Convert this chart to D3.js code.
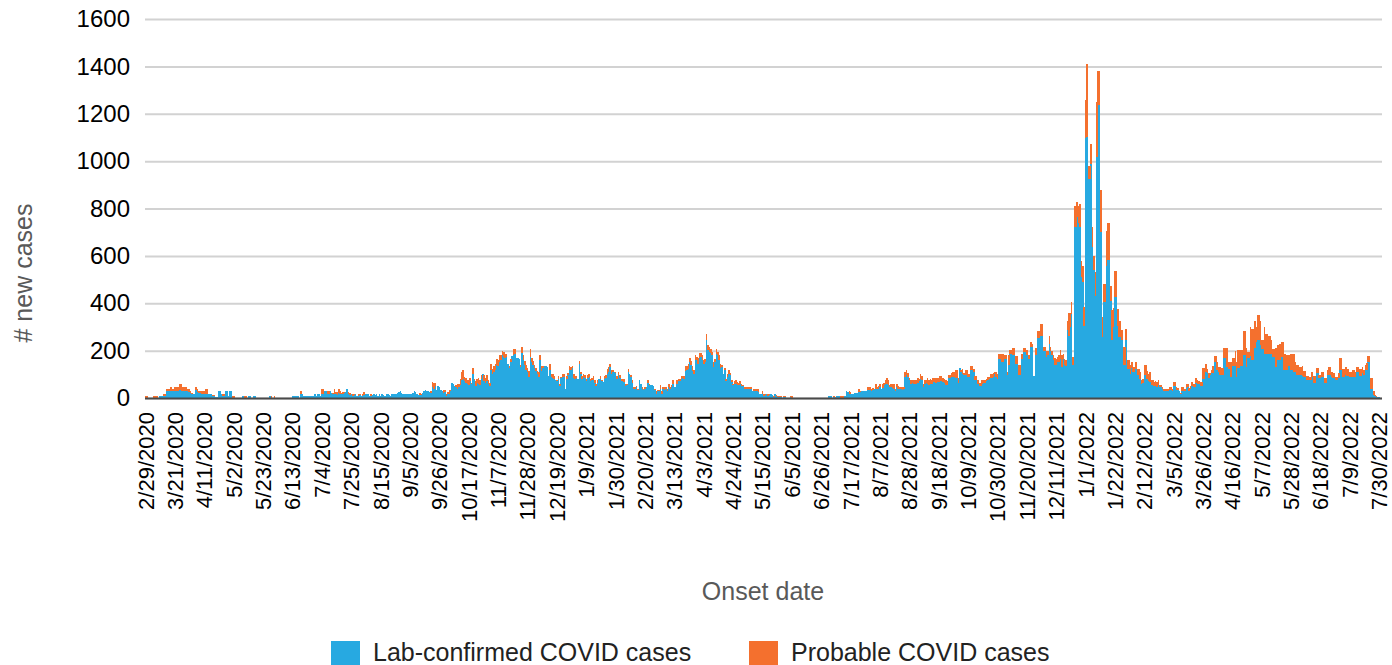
<!DOCTYPE html>
<html>
<head>
<meta charset="utf-8">
<script src="https://cdn.jsdelivr.net/npm/d3@7"></script>
<style>
  body { margin: 0; background: #fff; }
  svg { display: block; font-family: "Liberation Sans", Arial, sans-serif; }
</style>
</head>
<body>
<script>
// daily counts from 2/29/2020, one row per 21 days
var confirmed = [
    0,0,0,0,0,0,0,0,0,0,8,8,8,8,8,28,28,28,28,28,28,
    28,28,30,32,32,28,28,28,28,28,25,20,18,18,18,32,25,20,20,18,18,
    18,18,18,18,18,18,8,8,5,5,28,28,18,10,10,28,28,10,28,28,0,
    0,0,0,0,0,0,10,10,0,0,0,10,10,0,10,10,0,0,0,0,0,
    0,0,0,0,0,10,0,0,0,0,0,0,0,0,0,0,0,0,0,0,0,
    10,10,10,10,10,0,18,18,10,10,10,10,10,10,10,10,18,10,18,18,10,
    18,18,28,28,18,18,28,20,15,18,15,12,20,18,15,15,20,25,37,15,12,
    15,10,12,15,10,8,12,10,10,12,18,18,15,10,10,12,18,12,18,10,18,
    10,18,12,10,15,18,12,10,18,18,18,18,20,25,28,20,18,18,18,18,18,
    18,18,20,28,25,18,12,12,12,20,28,35,28,28,25,20,48,40,50,35,52,
    45,35,28,20,25,10,15,15,30,62,58,50,45,40,45,55,75,80,70,65,60,
    55,70,60,100,75,50,65,60,55,80,100,70,65,70,60,50,120,100,110,120,140,
    135,150,160,180,175,170,175,142,125,150,177,180,185,170,170,165,130,190,160,140,120,
    110,90,175,150,140,125,115,100,90,160,114,125,134,134,130,92,120,90,85,80,75,
    70,80,50,85,88,90,40,80,95,120,120,125,85,80,85,82,145,100,80,90,85,
    70,85,90,70,75,75,65,50,65,82,80,70,68,80,85,100,110,130,103,110,110,
    105,82,95,85,70,70,68,50,55,110,100,90,65,38,40,45,35,75,60,38,35,
    40,48,65,55,53,53,50,35,18,28,30,40,18,37,35,38,30,45,40,45,60,
    46,46,60,70,72,80,85,82,114,120,124,150,140,115,100,162,160,145,170,175,162,
    145,150,244,204,195,190,180,132,150,187,180,162,125,130,103,117,70,89,103,95,68,
    55,60,58,55,55,58,50,50,40,40,38,40,38,40,28,28,30,28,25,18,18,
    15,10,12,18,10,12,18,12,5,18,8,5,4,4,0,4,3,2,2,0,3,
    2,0,0,0,0,0,0,0,0,0,0,0,0,0,0,0,0,0,0,0,0,
    0,0,0,0,0,8,8,8,0,3,0,8,8,8,2,2,2,8,28,25,15,
    18,18,18,20,20,22,25,25,28,28,30,30,32,35,35,30,32,37,40,38,40,
    45,37,42,55,60,58,55,45,45,42,40,30,45,40,38,38,35,40,89,95,90,
    75,60,65,58,60,58,65,70,80,78,46,60,65,60,55,60,58,69,69,65,69,
    69,70,72,69,65,55,55,83,83,87,87,87,83,83,62,127,110,101,95,97,97,
    90,90,117,117,110,76,76,60,50,50,60,65,62,70,75,80,85,85,90,100,90,
    80,166,166,150,150,166,166,96,140,186,186,180,180,145,145,96,96,166,166,193,193,
    180,166,166,214,214,92,180,180,255,255,262,262,200,200,175,180,228,200,180,160,140,
    140,150,152,166,130,166,140,133,288,260,300,355,138,723,723,765,740,720,509,488,306,
    1096,1100,923,923,987,636,540,432,1019,1239,1239,699,257,404,404,559,582,582,411,246,300,
    425,425,306,257,257,243,138,138,243,124,124,102,128,109,109,124,95,95,81,60,65,
    95,95,81,70,67,53,53,50,50,48,56,46,46,37,28,28,28,28,35,35,28,
    49,49,35,35,28,15,28,28,30,42,46,28,40,49,46,46,62,60,58,49,49,
    79,79,111,104,83,97,104,104,153,153,118,110,97,97,97,167,167,132,121,121,90,
    135,135,135,90,128,128,135,135,181,181,132,167,167,176,162,162,211,236,246,246,222,
    208,208,187,187,187,187,187,187,174,174,129,160,160,160,174,174,118,118,118,135,135,
    118,118,111,111,97,97,97,97,93,87,87,76,76,74,74,87,65,65,104,104,83,
    83,90,90,62,62,97,97,97,87,83,83,76,76,83,118,118,87,87,97,93,93,
    87,87,90,90,87,111,111,93,93,107,97,118,118,153,153,37,37,14,7,4,4,3
];

var probable = [
    10,10,0,0,0,0,8,8,8,0,0,0,0,10,10,9,9,9,17,9,9,
    17,17,15,26,26,17,17,17,17,12,12,8,5,0,0,13,13,8,8,10,10,
    10,20,20,0,0,0,5,5,0,0,0,0,0,8,8,0,0,0,0,0,10,
    10,0,0,0,0,0,0,0,10,10,0,0,0,0,0,0,0,0,0,0,0,
    0,0,0,0,0,0,10,0,10,0,0,0,0,0,0,0,0,0,0,0,0,
    0,0,0,0,0,0,10,0,0,0,0,0,0,0,0,0,0,0,0,0,0,
    18,18,0,0,10,10,0,0,5,19,10,15,17,10,8,12,6,0,0,12,10,
    3,8,6,3,0,8,6,0,5,15,0,0,0,0,8,0,0,0,0,0,0,
    0,0,0,0,0,0,0,0,0,0,0,0,0,0,0,0,0,0,0,0,0,
    0,0,0,0,0,0,0,8,6,0,0,0,0,0,0,10,18,25,15,0,0,
    0,0,0,15,10,5,10,20,5,0,0,0,10,20,12,25,35,37,20,20,15,
    20,15,5,25,5,20,15,25,20,15,0,25,20,25,15,15,22,22,25,22,23,
    25,30,20,17,20,15,10,0,10,15,0,26,20,0,0,0,10,24,20,15,20,
    15,25,30,20,15,15,10,15,20,20,20,10,0,0,0,0,22,13,15,12,0,
    5,12,8,5,12,10,0,12,10,14,10,8,15,12,8,0,12,10,12,10,12,
    12,10,10,12,8,17,10,8,10,0,12,5,0,12,10,24,20,15,14,10,0,
    5,10,15,10,12,10,14,8,5,14,0,5,10,8,6,5,5,0,0,8,5,
    5,0,10,5,0,0,0,5,10,5,5,16,10,9,10,8,10,13,6,10,15,
    0,0,15,12,10,12,7,10,20,15,21,20,15,19,17,18,15,25,18,13,18,
    17,15,25,18,21,15,15,20,16,19,15,18,17,10,0,8,12,14,14,10,7,
    5,10,17,13,10,15,8,5,6,6,8,6,8,5,0,9,7,9,12,0,0,
    13,8,6,0,8,6,0,0,5,0,4,5,4,6,0,6,5,0,0,0,7,
    6,0,0,0,0,0,0,0,0,0,0,0,0,0,0,0,0,0,0,0,0,
    0,0,0,0,0,0,0,0,0,6,5,0,0,0,7,7,7,0,0,0,13,
    8,0,0,0,0,0,12,5,0,0,0,0,14,11,11,7,10,0,18,8,10,
    13,0,16,10,15,25,20,10,13,16,18,7,13,10,8,8,11,8,21,22,15,
    8,15,10,17,15,17,18,10,20,15,15,15,12,23,21,20,17,17,17,20,17,
    17,22,20,17,15,21,15,14,14,20,23,23,34,34,24,0,10,23,12,20,20,
    12,12,17,17,14,16,16,16,12,12,15,12,14,10,15,10,15,16,15,10,20,
    20,20,20,36,36,14,14,14,40,17,17,31,31,32,32,42,42,20,20,18,18,
    23,14,14,21,16,0,30,30,28,28,51,51,14,14,25,20,34,14,20,20,30,
    25,25,28,38,50,20,25,28,39,100,60,49,35,88,88,63,70,98,71,70,77,
    162,311,57,57,84,84,60,98,231,141,141,178,84,77,77,147,156,156,63,126,80,
    113,113,70,70,70,42,77,77,49,35,35,36,24,22,22,28,29,29,28,14,16,
    43,43,35,30,42,21,21,17,20,18,20,10,10,9,9,9,9,9,11,11,9,
    19,19,11,8,0,6,18,18,8,18,14,14,10,19,14,14,23,16,12,19,19,
    47,47,32,20,21,7,15,31,26,26,35,22,35,28,28,45,45,80,32,32,63,
    32,32,62,63,76,76,66,66,100,100,80,27,27,125,128,128,113,65,105,105,104,
    36,36,114,83,83,73,73,59,33,33,83,62,62,69,62,62,69,69,62,48,48,
    69,69,76,42,42,42,35,35,42,25,25,18,18,14,14,21,28,28,21,21,14,
    14,21,21,21,21,21,35,35,24,21,21,14,14,21,52,52,35,35,35,28,28,
    21,21,28,28,21,21,21,31,31,24,21,21,28,26,26,46,46,14,7,3,0,0
];

var tickLabels = ["2/29/2020", "3/21/2020", "4/11/2020", "5/2/2020", "5/23/2020", "6/13/2020",
    "7/4/2020", "7/25/2020", "8/15/2020", "9/5/2020", "9/26/2020", "10/17/2020", "11/7/2020",
    "11/28/2020", "12/19/2020", "1/9/2021", "1/30/2021", "2/20/2021", "3/13/2021", "4/3/2021",
    "4/24/2021", "5/15/2021", "6/5/2021", "6/26/2021", "7/17/2021", "8/7/2021", "8/28/2021",
    "9/18/2021", "10/9/2021", "10/30/2021", "11/20/2021", "12/11/2021", "1/1/2022", "1/22/2022",
    "2/12/2022", "3/5/2022", "3/26/2022", "4/16/2022", "5/7/2022", "5/28/2022", "6/18/2022",
    "7/9/2022", "7/30/2022"];

var yTicks = [0, 200, 400, 600, 800, 1000, 1200, 1400, 1600];
var seriesNames = ["Lab-confirmed COVID cases", "Probable COVID cases"];
var colors = ["#27a9e1", "#f4702e"];

var margin = { top: 19, right: 10, bottom: 267, left: 145 };
var width = 1392 - margin.left - margin.right;
var height = 665 - margin.top - margin.bottom;

var svg = d3.select("body")
    .append("svg")
    .attr("width", 1392)
    .attr("height", 665);

var g = svg.append("g")
    .attr("transform", "translate(" + margin.left + "," + margin.top + ")");

var days = d3.range(confirmed.length);

var x = d3.scaleBand()
    .domain(days)
    .range([0, width - 2])
    .padding(0);

var y = d3.scaleLinear()
    .domain([0, 1600])
    .range([height, 0]);

// gridlines + y labels
var yAxis = d3.axisLeft(y)
    .tickValues(yTicks)
    .tickFormat(d3.format("d"))
    .tickSize(-width)
    .tickPadding(15);

g.append("g")
    .attr("class", "y axis")
    .call(yAxis)
    .call(function (a) {
        a.select(".domain").remove();
        a.selectAll("line").attr("stroke", "#d2d2d2").attr("stroke-width", 2);
        a.selectAll("text")
            .attr("fill", "#000")
            .style("font-size", "24px");
    });

// stacked bars
var stack = d3.stack().keys([0, 1])
    .value(function (d, k) { return k === 0 ? confirmed[d] : probable[d]; });
var layers = stack(days);

g.selectAll("g.layer")
    .data(layers)
    .enter().append("g")
    .attr("class", "layer")
    .attr("fill", function (d, i) { return colors[i]; })
    .selectAll("rect")
    .data(function (d) { return d.filter(function (p) { return p[1] > p[0]; }); })
    .enter().append("rect")
    .attr("x", function (d) { return x(d.data); })
    .attr("width", x.bandwidth() + 0.15)
    .attr("y", function (d) { return y(d[1]); })
    .attr("height", function (d) { return y(d[0]) - y(d[1]); })
    .attr("shape-rendering", "crispEdges");

// x axis
var xAxis = d3.axisBottom(x)
    .tickValues(tickLabels.map(function (t, i) { return i * 21; }))
    .tickFormat(function (d) { return tickLabels[d / 21]; })
    .tickSize(0);

var xg = g.append("g")
    .attr("class", "x axis")
    .attr("transform", "translate(0," + height + ")")
    .call(xAxis);

xg.select(".domain").remove();
xg.selectAll("text")
    .attr("fill", "#000")
    .style("font-size", "22px")
    .attr("text-anchor", "end")
    .attr("transform", "rotate(-90)")
    .attr("x", -14)
    .attr("y", 0)
    .attr("dy", "0.36em");

g.append("line")
    .attr("x1", 0)
    .attr("x2", width)
    .attr("y1", height + 0.5)
    .attr("y2", height + 0.5)
    .attr("stroke", "#4a4a4a")
    .attr("stroke-width", 2);

// axis titles
svg.append("text")
    .attr("transform", "translate(32,273) rotate(-90)")
    .attr("text-anchor", "middle")
    .attr("fill", "#595959")
    .style("font-size", "25px")
    .text("# new cases");

svg.append("text")
    .attr("x", 763)
    .attr("y", 600)
    .attr("text-anchor", "middle")
    .attr("fill", "#595959")
    .style("font-size", "25px")
    .text("Onset date");

// legend
var legendX = [331, 749];
var legend = svg.selectAll(".legend")
    .data(seriesNames)
    .enter().append("g")
    .attr("class", "legend")
    .attr("transform", function (d, i) { return "translate(" + legendX[i] + ",641)"; });

legend.append("rect")
    .attr("width", 29)
    .attr("height", 30)
    .attr("fill", function (d, i) { return colors[i]; });

legend.append("text")
    .attr("x", 42)
    .attr("y", 20)
    .attr("fill", "#222")
    .style("font-size", "25px")
    .text(function (d) { return d; });
</script>
</body>
</html>
